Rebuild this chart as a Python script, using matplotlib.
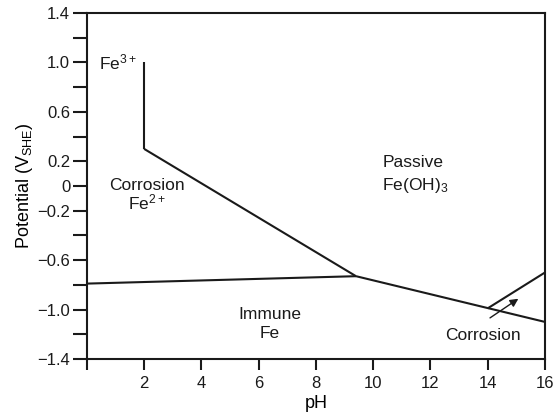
import numpy as np
import matplotlib
matplotlib.use("Agg")
import matplotlib.pyplot as plt

plt.rcParams['font.family'] = ['Liberation Sans', 'DejaVu Sans']
plt.rcParams['mathtext.fontset'] = 'custom'
plt.rcParams['mathtext.rm'] = 'Liberation Sans'
plt.rcParams['mathtext.it'] = 'Liberation Sans'

# boundary lines of the Pourbaix diagram (pH, potential)
fe3_ph = [2, 2]
fe3_e = [1.0, 0.3]

fe2_ph = [2, 9.4]
fe2_e = [0.3, -0.73]

immune_ph = [0, 9.4]
immune_e = [-0.79, -0.73]

passive_ph = [9.4, 16]
passive_e = [-0.73, -1.1]

corr_ph = [14, 16]
corr_e = [-0.99, -0.7]

yticks = [-1.4, -1.2, -1.0, -0.8, -0.6, -0.4, -0.2, 0, 0.2, 0.4, 0.6, 0.8, 1.0, 1.2, 1.4]
ylabels = ['\u22121.4', '', '\u22121.0', '', '\u22120.6', '', '\u22120.2', '0', '0.2', '', '0.6', '', '1.0', '', '1.4']
xticks = [0, 2, 4, 6, 8, 10, 12, 14, 16]
xlabels = ['', '2', '4', '6', '8', '10', '12', '14', '16']

fig = plt.figure(figsize=(5.53, 4.16), dpi=100)
ax = fig.add_axes([0.157, 0.137, 0.8285, 0.832])

for xs, ys in [(fe3_ph, fe3_e), (fe2_ph, fe2_e), (immune_ph, immune_e),
               (passive_ph, passive_e), (corr_ph, corr_e)]:
    ax.plot(xs, ys, color='#1a1a1a', lw=1.5, solid_capstyle='butt')

ax.set_xlim(0, 16)
ax.set_ylim(-1.4, 1.4)
ax.set_xticks(xticks)
ax.set_xticklabels(xlabels)
ax.set_yticks(yticks)
ax.set_yticklabels(ylabels)
ax.tick_params(direction='out', width=1.5, labelsize=12, colors='#1a1a1a')
ax.tick_params(axis='x', length=8, pad=4)
ax.tick_params(axis='y', length=10, pad=2)
for s in ax.spines.values():
    s.set_linewidth(1.5)
    s.set_color('#1a1a1a')

ax.set_xlabel('pH', fontsize=13, labelpad=3)
ax.set_ylabel(r'Potential (V$_{\mathrm{SHE}}$)', fontsize=13, labelpad=2)

tk = dict(fontsize=12.5, ha='center', va='center', color='#1a1a1a')
ax.text(1.1, 1.0, r'Fe$^{\mathrm{3+}}$', **tk)
ax.text(2.1, 0.0, 'Corrosion', **tk)
ax.text(2.1, -0.13, r'Fe$^{\mathrm{2+}}$', **tk)
ax.text(11.4, 0.19, 'Passive', **tk)
ax.text(11.45, 0.0, r'Fe(OH)$_{\mathrm{3}}$', **tk)
ax.text(6.4, -1.04, 'Immune', **tk)
ax.text(6.4, -1.19, 'Fe', **tk)
ax.text(13.85, -1.21, 'Corrosion', **tk)

ax.annotate('', xy=(15.15, -0.9), xytext=(14.0, -1.08),
            arrowprops=dict(arrowstyle='-|>', color='#1a1a1a', lw=1.0,
                            mutation_scale=12))

fig.savefig('out.png', dpi=100)
